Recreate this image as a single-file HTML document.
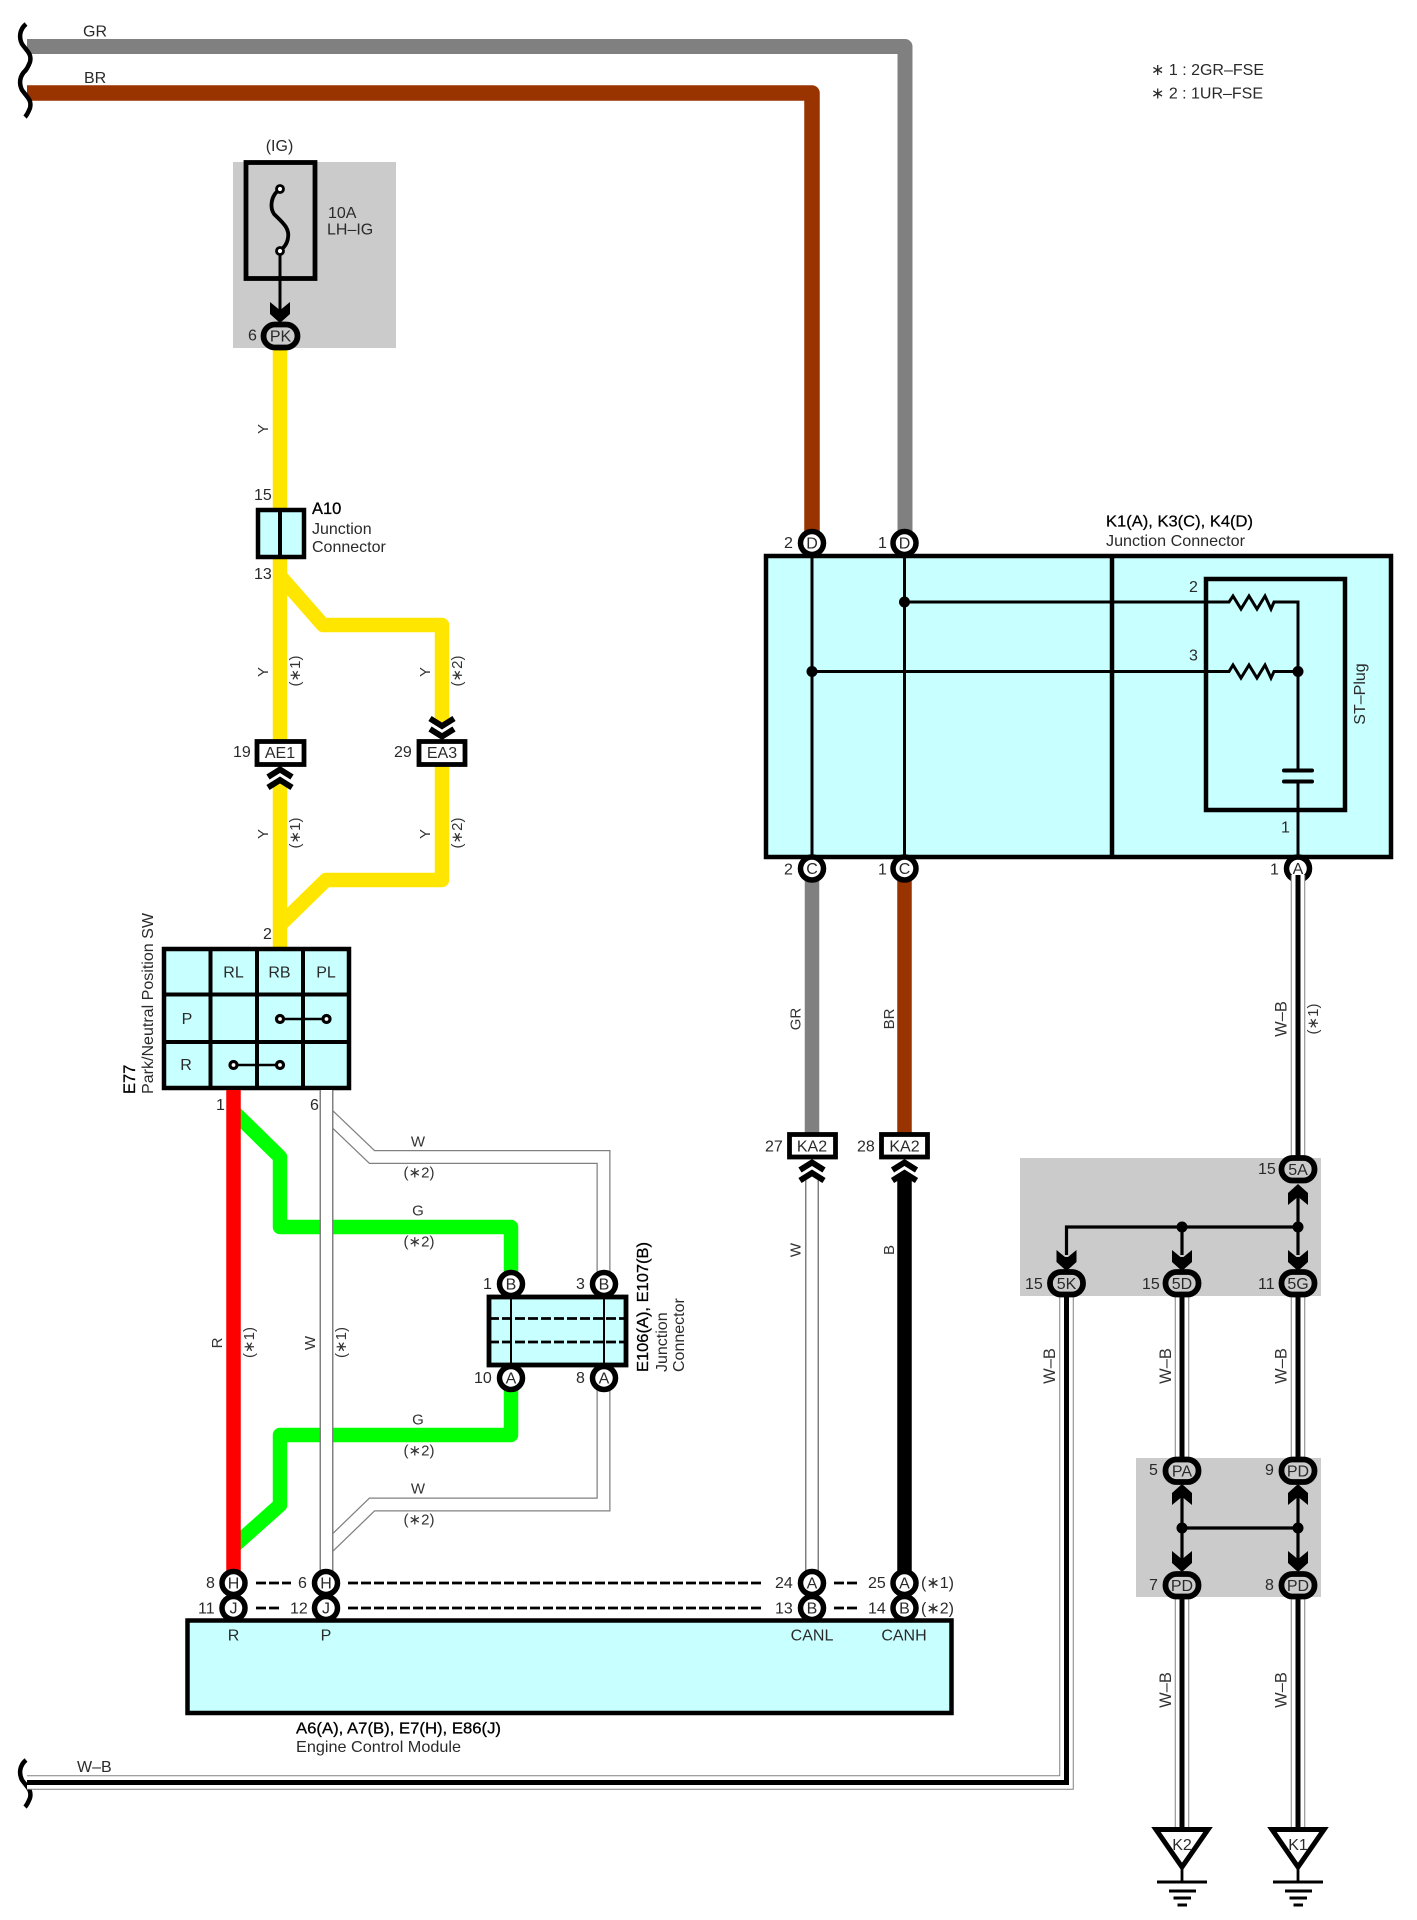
<!DOCTYPE html>
<html><head><meta charset="utf-8"><style>
html,body{margin:0;padding:0;background:#fff}
svg{display:block}
text{font-family:"Liberation Sans",sans-serif;font-size:16px;fill:#2a2a2a}
.m{text-anchor:middle}
.b{font-size:16.5px;fill:#000;stroke:#000;stroke-width:.3}
.s{font-size:15px;fill:#333}
.w{font-size:16.5px;fill:#333}
.n{fill:none}
</style></head><body>
<svg xmlns="http://www.w3.org/2000/svg" width="1417" height="1920" viewBox="0 0 1417 1920">
<defs>
<polygon id="ad" points="-10,0 -1.5,7 1.5,7 10,0 10,12 0,21 -10,12" fill="#000"/>
<polygon id="au" points="-10,21 -1.5,14 1.5,14 10,21 10,9 0,0 -10,9" fill="#000"/>
<g id="cu" fill="none" stroke="#000" stroke-width="6"><polyline points="-12,10 0,2.5 12,10"/><polyline points="-12,20.5 0,13 12,20.5"/></g>
<g id="cd" fill="none" stroke="#000" stroke-width="6"><polyline points="-12,-10 0,-2.5 12,-10"/><polyline points="-12,-20.5 0,-13 12,-20.5"/></g>
<path id="sq" d="M26,0 C19,6 19,14 22,20 C27,27 32,30 30,38 C28,43 26,46 25,47" fill="none" stroke="#000" stroke-width="4.5"/>
</defs>

<!-- gray zones -->
<rect x="233" y="162" width="163" height="186" fill="#cbcbcb"/>
<rect x="1020" y="1158" width="301" height="138" fill="#cbcbcb"/>
<rect x="1136" y="1458" width="185" height="139" fill="#cbcbcb"/>

<!-- top wires -->
<polyline class="n" points="27,46.5 905,46.5 905,535" stroke="#808080" stroke-width="15" stroke-linejoin="round"/>
<polyline class="n" points="27,93 812,93 812,535" stroke="#993300" stroke-width="15.5" stroke-linejoin="round"/>
<use href="#sq" x="0" y="24"/><use href="#sq" x="0" y="70"/><use href="#sq" x="0" y="1760"/>
<text x="83" y="36.5">GR</text><text x="84" y="83">BR</text>

<!-- notes -->
<text x="1151" y="75" textLength="113" lengthAdjust="spacingAndGlyphs">∗ 1 : 2GR–FSE</text>
<text x="1151" y="98.5" textLength="112" lengthAdjust="spacingAndGlyphs">∗ 2 : 1UR–FSE</text>

<!-- fuse -->
<text class="m" x="279.5" y="151">(IG)</text>
<rect x="246" y="162.5" width="69" height="116" fill="none" stroke="#000" stroke-width="4.8"/>
<path class="n" d="M280,189 C270,196 270,208 274,214 C282,222 290,228 288,238 C287,245 283,248 280,251" stroke="#000" stroke-width="3.8"/>
<line x1="280" y1="251" x2="280" y2="318" stroke="#000" stroke-width="3"/>
<circle cx="280" cy="189" r="3.5" fill="#fff" stroke="#000" stroke-width="2.8"/>
<circle cx="280" cy="251" r="3.5" fill="#fff" stroke="#000" stroke-width="2.8"/>
<text x="328" y="218">10A</text><text x="327" y="234.5">LH–IG</text>
<use href="#ad" x="280" y="302"/>

<!-- yellow wires -->
<g class="n" stroke="#ffe600" stroke-width="14.5" fill="none" stroke-linejoin="round">
<line x1="280" y1="348" x2="280" y2="740"/>
<line x1="280" y1="783" x2="280" y2="950"/>
<polyline points="280,576 323,625 442,625 442,722"/>
<polyline points="442,766 442,880 326,880 280,925"/>
</g>
<rect x="258" y="510" width="46" height="47" fill="#c8ffff" stroke="#000" stroke-width="4.5"/>
<line x1="280" y1="510" x2="280" y2="557" stroke="#000" stroke-width="4"/>
<rect x="263.5" y="324.5" width="34" height="23" rx="11.5" fill="#cbcbcb" stroke="#000" stroke-width="5.8"/>
<text class="m" x="280.5" y="341.5">PK</text>
<text x="248" y="340.5">6</text>
<text x="254" y="500">15</text><text x="254" y="579">13</text>
<text class="b" x="312" y="514">A10</text>
<text x="312" y="534">Junction</text><text x="312" y="552">Connector</text>
<text class="m s" transform="translate(268,429) rotate(-90)">Y</text>
<text class="m s" transform="translate(268,672) rotate(-90)">Y</text>
<text class="m s" transform="translate(268,834) rotate(-90)">Y</text>
<text class="m s" transform="translate(430,672) rotate(-90)">Y</text>
<text class="m s" transform="translate(430,834) rotate(-90)">Y</text>
<text class="m s" transform="translate(300,671) rotate(-90)">(∗1)</text>
<text class="m s" transform="translate(300,833) rotate(-90)">(∗1)</text>
<text class="m s" transform="translate(462,671) rotate(-90)">(∗2)</text>
<text class="m s" transform="translate(462,833) rotate(-90)">(∗2)</text>

<rect x="257" y="741.5" width="47" height="23" fill="#fff" stroke="#000" stroke-width="4.8"/>
<text class="m" x="280" y="758">AE1</text><text x="233" y="757">19</text>
<rect x="419" y="741.5" width="46" height="23" fill="#fff" stroke="#000" stroke-width="4.8"/>
<text class="m" x="442" y="758">EA3</text><text x="394" y="757">29</text>
<use href="#cu" x="280" y="767"/>
<use href="#cd" x="442" y="739"/>
<text x="263" y="939">2</text>

<!-- E77 -->
<rect x="164" y="949" width="185" height="139" fill="#c8ffff" stroke="#000" stroke-width="4.5"/>
<g stroke="#000" stroke-width="4">
<line x1="210.5" y1="949" x2="210.5" y2="1088"/><line x1="257" y1="949" x2="257" y2="1088"/><line x1="303" y1="949" x2="303" y2="1088"/>
<line x1="164" y1="994.5" x2="349" y2="994.5"/><line x1="164" y1="1042" x2="349" y2="1042"/>
</g>
<text class="m" x="233.5" y="977.5">RL</text><text class="m" x="279.5" y="977.5">RB</text><text class="m" x="326" y="977.5">PL</text>
<text class="m" x="187" y="1024">P</text><text class="m" x="186" y="1070">R</text>
<line x1="280" y1="1019" x2="326.5" y2="1019" stroke="#000" stroke-width="2.5"/>
<circle cx="280" cy="1019" r="3.5" fill="#fff" stroke="#000" stroke-width="3.2"/><circle cx="326.5" cy="1019" r="3.5" fill="#fff" stroke="#000" stroke-width="3.2"/>
<line x1="233.5" y1="1065" x2="280" y2="1065" stroke="#000" stroke-width="2.5"/>
<circle cx="233.5" cy="1065" r="3.5" fill="#fff" stroke="#000" stroke-width="3.2"/><circle cx="280" cy="1065" r="3.5" fill="#fff" stroke="#000" stroke-width="3.2"/>
<text class="b" transform="translate(135,1094) rotate(-90)">E77</text>
<text transform="translate(153,1094) rotate(-90)" textLength="181" lengthAdjust="spacingAndGlyphs">Park/Neutral Position SW</text>
<text x="216" y="1110">1</text><text x="310" y="1110">6</text>

<!-- green -->
<g fill="none" stroke="#00ff00" stroke-width="14.5" stroke-linejoin="round">
<polyline points="234,1112 280,1157 280,1227 511,1227 511,1290"/>
<polyline points="234,1546 280,1505 280,1435 511,1435 511,1375"/>
</g>
<!-- white branches -->
<g fill="none" stroke-linejoin="miter">
<polyline points="326,1113 372,1157 603.5,1157 603.5,1280" stroke="#808080" stroke-width="14"/>
<polyline points="326,1113 372,1157 603.5,1157 603.5,1280" stroke="#fff" stroke-width="11.5"/>
<polyline points="326,1549 372,1504.5 603.5,1504.5 603.5,1380" stroke="#808080" stroke-width="14"/>
<polyline points="326,1549 372,1504.5 603.5,1504.5 603.5,1380" stroke="#fff" stroke-width="11.5"/>
</g>
<line x1="233.5" y1="1090" x2="233.5" y2="1575" stroke="#ff0000" stroke-width="14.5"/>
<line x1="326.5" y1="1090" x2="326.5" y2="1575" stroke="#808080" stroke-width="14"/>
<line x1="326.5" y1="1090" x2="326.5" y2="1575" stroke="#fff" stroke-width="11"/>
<text class="m s" transform="translate(222,1343) rotate(-90)">R</text>
<text class="m s" transform="translate(315,1343) rotate(-90)">W</text>
<text class="m s" transform="translate(254,1342.5) rotate(-90)">(∗1)</text>
<text class="m s" transform="translate(346,1342.5) rotate(-90)">(∗1)</text>
<text class="m s" x="418" y="1146.5">W</text><text class="m s" x="419" y="1177.5">(∗2)</text>
<text class="m s" x="418" y="1215.5">G</text><text class="m s" x="419" y="1246.5">(∗2)</text>
<text class="m s" x="418" y="1424.5">G</text><text class="m s" x="419" y="1455.5">(∗2)</text>
<text class="m s" x="418" y="1493.5">W</text><text class="m s" x="419" y="1524.5">(∗2)</text>

<!-- E106 -->
<rect x="489" y="1297" width="137" height="68" fill="#c8ffff" stroke="#000" stroke-width="4.8"/>
<line x1="511" y1="1297" x2="511" y2="1365" stroke="#000" stroke-width="2"/><line x1="604" y1="1297" x2="604" y2="1365" stroke="#000" stroke-width="2"/>
<line x1="489" y1="1318.5" x2="626" y2="1318.5" stroke="#000" stroke-width="2.8" stroke-dasharray="10,3"/>
<line x1="489" y1="1342" x2="626" y2="1342" stroke="#000" stroke-width="2.8" stroke-dasharray="10,3"/>
<g fill="#fff" stroke="#000" stroke-width="5.5">
<circle cx="511" cy="1284" r="11.5"/><circle cx="604" cy="1284" r="11.5"/><circle cx="511" cy="1378" r="11.5"/><circle cx="604" cy="1378" r="11.5"/>
<circle cx="233.5" cy="1583" r="11.5"/><circle cx="233.5" cy="1608" r="11.5"/><circle cx="326" cy="1583" r="11.5"/><circle cx="326" cy="1608" r="11.5"/>
</g>
<text class="m" x="511" y="1289.5">B</text><text class="m" x="604" y="1289.5">B</text><text class="m" x="511" y="1383.5">A</text><text class="m" x="604" y="1383.5">A</text>
<text class="m" x="233.5" y="1588.5">H</text><text class="m" x="233.5" y="1613.5">J</text><text class="m" x="326" y="1588.5">H</text><text class="m" x="326" y="1613.5">J</text>
<text x="483" y="1289">1</text><text x="576" y="1289">3</text><text x="474" y="1383">10</text><text x="576" y="1383">8</text>
<text transform="translate(648,1372) rotate(-90)" textLength="130" lengthAdjust="spacingAndGlyphs" style="stroke:#000;stroke-width:.3;fill:#000">E106(A), E107(B)</text>
<text transform="translate(667,1372) rotate(-90)">Junction</text>
<text transform="translate(684,1372) rotate(-90)">Connector</text>

<!-- ECM -->
<rect x="187.5" y="1620.5" width="764" height="92.5" fill="#c8ffff" stroke="#000" stroke-width="4.5"/>
<g stroke="#000" stroke-width="2.8" stroke-dasharray="10,3" fill="none">
<line x1="256" y1="1583" x2="291" y2="1583"/><line x1="256" y1="1608" x2="279" y2="1608"/>
<line x1="348" y1="1583" x2="763" y2="1583"/><line x1="348" y1="1608" x2="763" y2="1608"/>
<line x1="834" y1="1583" x2="858" y2="1583"/><line x1="834" y1="1608" x2="858" y2="1608"/>
</g>
<text x="206" y="1588">8</text><text x="198" y="1613.5">11</text><text x="298" y="1588">6</text><text x="290" y="1613.5">12</text>
<text x="775" y="1588">24</text><text x="775" y="1613.5">13</text><text x="868" y="1588">25</text><text x="868" y="1613.5">14</text>
<text x="921" y="1588">(∗1)</text><text x="921" y="1613.5">(∗2)</text>
<text class="m" x="233.5" y="1640.5">R</text><text class="m" x="326" y="1640.5">P</text>
<text class="m" x="812" y="1640.5">CANL</text><text class="m" x="904" y="1640.5">CANH</text>
<text x="296" y="1733.5" textLength="205" lengthAdjust="spacingAndGlyphs" style="stroke:#000;stroke-width:.3;fill:#000">A6(A), A7(B), E7(H), E86(J)</text>
<text x="296" y="1752" textLength="165" lengthAdjust="spacingAndGlyphs">Engine Control Module</text>

<!-- K box -->
<rect x="766" y="556" width="625" height="301" fill="#c8ffff" stroke="#000" stroke-width="4.5"/>
<line x1="1112" y1="556" x2="1112" y2="857" stroke="#000" stroke-width="4.5"/>
<rect x="1206" y="579" width="139" height="231" fill="none" stroke="#000" stroke-width="4.5"/>
<g fill="none" stroke="#000" stroke-width="3">
<line x1="812" y1="556" x2="812" y2="857"/><line x1="904.5" y1="556" x2="904.5" y2="857"/>
<polyline points="904,602 1229,602 1233,596 1241,609 1249,596 1257,609 1265,596 1271,609 1274,602 1298,602 1298,770"/>
<polyline points="812,671.5 1229,671.5 1233,665 1241,678 1249,665 1257,678 1265,665 1271,678 1274,671.5 1298,671.5"/>
<line x1="1298" y1="782" x2="1298" y2="857"/>
</g>
<line x1="1284" y1="770.5" x2="1312" y2="770.5" stroke="#000" stroke-width="4" stroke-linecap="round"/>
<line x1="1284" y1="781.5" x2="1312" y2="781.5" stroke="#000" stroke-width="4" stroke-linecap="round"/>
<circle cx="904.5" cy="602" r="5.5" fill="#000"/><circle cx="812" cy="671.5" r="5.5" fill="#000"/><circle cx="1298" cy="671.5" r="5.5" fill="#000"/>
<text x="1189" y="592">2</text><text x="1189" y="660.5">3</text><text x="1281" y="832.5">1</text>
<text class="m" transform="translate(1365,694) rotate(-90)">ST–Plug</text>
<text x="1106" y="526.5" textLength="147" lengthAdjust="spacingAndGlyphs" style="stroke:#000;stroke-width:.25;fill:#000">K1(A), K3(C), K4(D)</text>
<text x="1106" y="546" textLength="139" lengthAdjust="spacingAndGlyphs">Junction Connector</text>
<text x="784" y="548">2</text><text x="878" y="548">1</text>
<text x="784" y="874.5">2</text><text x="878" y="874.5">1</text><text x="1270" y="874.5">1</text>

<!-- lower mid wires -->
<line x1="812" y1="875" x2="812" y2="1135" stroke="#808080" stroke-width="14.5"/>
<line x1="904.5" y1="875" x2="904.5" y2="1135" stroke="#993300" stroke-width="14.5"/>
<line x1="812" y1="1176" x2="812" y2="1575" stroke="#808080" stroke-width="14"/>
<line x1="812" y1="1176" x2="812" y2="1575" stroke="#fff" stroke-width="11"/>
<line x1="904.5" y1="1176" x2="904.5" y2="1575" stroke="#000" stroke-width="14.5"/>
<g fill="#fff" stroke="#000" stroke-width="5.5">
<circle cx="812" cy="543" r="11.5"/><circle cx="904.5" cy="543" r="11.5"/>
<circle cx="812" cy="868.5" r="11.5"/><circle cx="904.5" cy="868.5" r="11.5"/><circle cx="1298" cy="868.5" r="11.5"/>
<circle cx="812" cy="1583" r="11.5"/><circle cx="812" cy="1608" r="11.5"/><circle cx="904.5" cy="1583" r="11.5"/><circle cx="904.5" cy="1608" r="11.5"/>
</g>
<text class="m" x="812" y="548.5">D</text><text class="m" x="904.5" y="548.5">D</text>
<text class="m" x="812" y="874">C</text><text class="m" x="904.5" y="874">C</text><text class="m" x="1298" y="874">A</text>
<text class="m" x="812" y="1588.5">A</text><text class="m" x="812" y="1613.5">B</text><text class="m" x="904.5" y="1588.5">A</text><text class="m" x="904.5" y="1613.5">B</text>
<rect x="789.5" y="1134.5" width="46" height="22.5" fill="#fff" stroke="#000" stroke-width="4.8"/>
<rect x="881.5" y="1134.5" width="46" height="22.5" fill="#fff" stroke="#000" stroke-width="4.8"/>
<text class="m" x="812" y="1151.5">KA2</text><text class="m" x="904.5" y="1151.5">KA2</text>
<text x="765" y="1151.5">27</text><text x="857" y="1151.5">28</text>
<use href="#cu" x="812" y="1160"/><use href="#cu" x="904.5" y="1160"/>
<text class="m s" transform="translate(800.5,1019) rotate(-90)">GR</text>
<text class="m s" transform="translate(894,1019) rotate(-90)">BR</text>
<text class="m s" transform="translate(800.5,1250) rotate(-90)">W</text>
<text class="m s" transform="translate(894,1250) rotate(-90)">B</text>

<!-- W-B wires -->
<g fill="none" stroke-linejoin="miter">
<g stroke="#808080" stroke-width="14.5">
<line x1="1298" y1="875" x2="1298" y2="1160"/><line x1="1182" y1="1296" x2="1182" y2="1460"/><line x1="1298" y1="1296" x2="1298" y2="1460"/>
<line x1="1182" y1="1596" x2="1182" y2="1830"/><line x1="1298" y1="1596" x2="1298" y2="1830"/>
<polyline points="1066.5,1296 1066.5,1782.5 27,1782.5"/>
</g>
<g stroke="#fff" stroke-width="12.5">
<line x1="1298" y1="875" x2="1298" y2="1160"/><line x1="1182" y1="1296" x2="1182" y2="1460"/><line x1="1298" y1="1296" x2="1298" y2="1460"/>
<line x1="1182" y1="1596" x2="1182" y2="1830"/><line x1="1298" y1="1596" x2="1298" y2="1830"/>
<polyline points="1066.5,1296 1066.5,1782.5 27,1782.5"/>
</g>
<g stroke="#000" stroke-width="5">
<line x1="1298" y1="875" x2="1298" y2="1160"/><line x1="1182" y1="1296" x2="1182" y2="1460"/><line x1="1298" y1="1296" x2="1298" y2="1460"/>
<line x1="1182" y1="1596" x2="1182" y2="1830"/><line x1="1298" y1="1596" x2="1298" y2="1830"/>
<polyline points="1066.5,1296 1066.5,1782.5 27,1782.5"/>
</g>
</g>
<text x="77" y="1772">W–B</text>
<text class="m w" transform="translate(1286.5,1019) rotate(-90)">W–B</text>
<text class="m s" transform="translate(1318,1019) rotate(-90)">(∗1)</text>
<text class="m w" transform="translate(1055,1366) rotate(-90)">W–B</text>
<text class="m w" transform="translate(1171,1366) rotate(-90)">W–B</text>
<text class="m w" transform="translate(1286.5,1366) rotate(-90)">W–B</text>
<text class="m w" transform="translate(1171,1690) rotate(-90)">W–B</text>
<text class="m w" transform="translate(1286.5,1690) rotate(-90)">W–B</text>

<!-- splice 1 -->
<g fill="none" stroke="#000" stroke-width="3.2">
<polyline points="1066.5,1255 1066.5,1227 1298,1227"/>
<line x1="1182" y1="1227" x2="1182" y2="1255"/><line x1="1298" y1="1195" x2="1298" y2="1255"/>
<line x1="1182" y1="1495" x2="1182" y2="1560"/><line x1="1298" y1="1495" x2="1298" y2="1560"/>
<line x1="1182" y1="1528" x2="1298" y2="1528"/>
</g>
<circle cx="1182" cy="1227" r="5.5" fill="#000"/><circle cx="1298" cy="1227" r="5.5" fill="#000"/>
<circle cx="1182" cy="1528" r="5.5" fill="#000"/><circle cx="1298" cy="1528" r="5.5" fill="#000"/>
<use href="#au" x="1298" y="1184"/>
<use href="#ad" x="1066.5" y="1250"/><use href="#ad" x="1182" y="1250"/><use href="#ad" x="1298" y="1250"/>
<use href="#au" x="1182" y="1484"/><use href="#au" x="1298" y="1484"/>
<use href="#ad" x="1182" y="1551"/><use href="#ad" x="1298" y="1551"/>
<g fill="#cbcbcb" stroke="#000" stroke-width="5.8">
<rect x="1281.5" y="1158" width="33" height="22.5" rx="11"/>
<rect x="1050" y="1272" width="33" height="22.5" rx="11"/><rect x="1165.5" y="1272" width="33" height="22.5" rx="11"/><rect x="1281.5" y="1272" width="33" height="22.5" rx="11"/>
<rect x="1165.5" y="1459.5" width="33" height="22.5" rx="11"/><rect x="1281.5" y="1459.5" width="33" height="22.5" rx="11"/>
<rect x="1165.5" y="1574" width="33" height="22.5" rx="11"/><rect x="1281.5" y="1574" width="33" height="22.5" rx="11"/>
</g>
<text class="m" x="1298" y="1175">5A</text>
<text class="m" x="1066.5" y="1289">5K</text><text class="m" x="1182" y="1289">5D</text><text class="m" x="1298" y="1289">5G</text>
<text class="m" x="1182" y="1476.5">PA</text><text class="m" x="1298" y="1476.5">PD</text>
<text class="m" x="1182" y="1591">PD</text><text class="m" x="1298" y="1591">PD</text>
<text x="1258" y="1174">15</text><text x="1025" y="1289">15</text><text x="1142" y="1289">15</text><text x="1258" y="1289">11</text>
<text x="1149" y="1475">5</text><text x="1265" y="1475">9</text><text x="1149" y="1590">7</text><text x="1265" y="1590">8</text>

<!-- grounds -->
<g fill="#fff" stroke="#000" stroke-width="5" stroke-linejoin="miter">
<polygon points="1156,1829.5 1208,1829.5 1182,1867"/><polygon points="1272,1829.5 1324,1829.5 1298,1867"/>
</g>
<text class="m" x="1182" y="1850">K2</text><text class="m" x="1298" y="1850">K1</text>
<g stroke="#000" fill="none">
<g stroke-width="2.8"><line x1="1182" y1="1868" x2="1182" y2="1882"/><line x1="1298" y1="1868" x2="1298" y2="1882"/></g>
<g stroke-width="3">
<line x1="1157" y1="1882" x2="1207" y2="1882"/><line x1="1273" y1="1882" x2="1323" y2="1882"/>
<line x1="1169" y1="1891" x2="1196" y2="1891"/><line x1="1285" y1="1891" x2="1312" y2="1891"/>
<line x1="1173.5" y1="1898" x2="1191" y2="1898"/><line x1="1289.5" y1="1898" x2="1307" y2="1898"/>
<line x1="1177.5" y1="1905" x2="1187" y2="1905"/><line x1="1293.5" y1="1905" x2="1303" y2="1905"/>
</g></g>
</svg>
</body></html>
